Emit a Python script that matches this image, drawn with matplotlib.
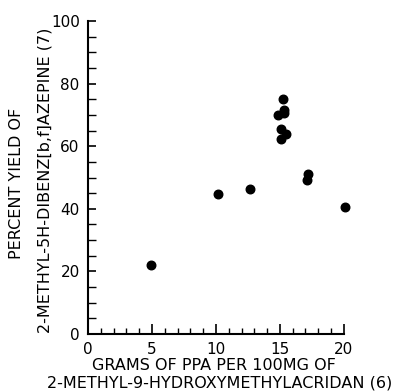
import matplotlib
matplotlib.use("Agg")
import matplotlib.pyplot as plt
from matplotlib.ticker import MultipleLocator

# grams of PPA per 100 mg acridan vs percent yield of azepine
grams_ppa = [4.9, 10.2, 12.7, 14.85, 15.25, 15.3, 15.3, 15.1, 15.5, 15.1, 17.1, 17.2, 20.1]
pct_yield = [22.0, 44.6, 46.3, 70.0, 75.0, 71.6, 70.5, 65.4, 63.9, 62.2, 49.2, 51.0, 40.6]

x_ticks = [0, 5, 10, 15, 20]
y_ticks = [0, 20, 40, 60, 80, 100]

plt.rcParams['font.family'] = ['DejaVu Sans']

W, H = 404, 391
fig = plt.figure(figsize=(W / 100, H / 100), dpi=100)
ax = fig.add_axes([0.218, 0.146, 0.633, 0.8])

ax.scatter(grams_ppa, pct_yield, s=38, color='black', zorder=3, clip_on=False)

ax.set_xlim(0, 20)
ax.set_ylim(0, 100)
ax.set_xticks(x_ticks)
ax.set_yticks(y_ticks)
ax.xaxis.set_minor_locator(MultipleLocator(1))
ax.yaxis.set_minor_locator(MultipleLocator(5))

for side in ('top', 'right'):
    ax.spines[side].set_visible(False)
for side in ('left', 'bottom'):
    ax.spines[side].set_linewidth(1.5)

ax.tick_params(which='major', direction='in', length=7, width=1.2, labelsize=11, pad=6)
ax.tick_params(which='minor', direction='in', length=4, width=1.0)
ax.tick_params(axis='y', which='both', length=6)

# axis titles placed in figure pixels to follow the reference layout
fs = 11.5
fig.text(214 / W, 1 - 365 / H, 'GRAMS OF PPA PER 100MG OF',
         fontsize=fs, ha='center', va='center')
fig.text(220 / W, 1 - 383 / H, '2-METHYL-9-HYDROXYMETHYLACRIDAN (6)',
         fontsize=fs, ha='center', va='center')
fig.text(17 / W, 1 - 183 / H, 'PERCENT YIELD OF',
         fontsize=fs, ha='center', va='center', rotation=90)
fig.text(45 / W, 1 - 180 / H, '2-METHYL-5H-DIBENZ[b,f]AZEPINE (7)',
         fontsize=fs, ha='center', va='center', rotation=90)

fig.savefig('out.png', dpi=100)
